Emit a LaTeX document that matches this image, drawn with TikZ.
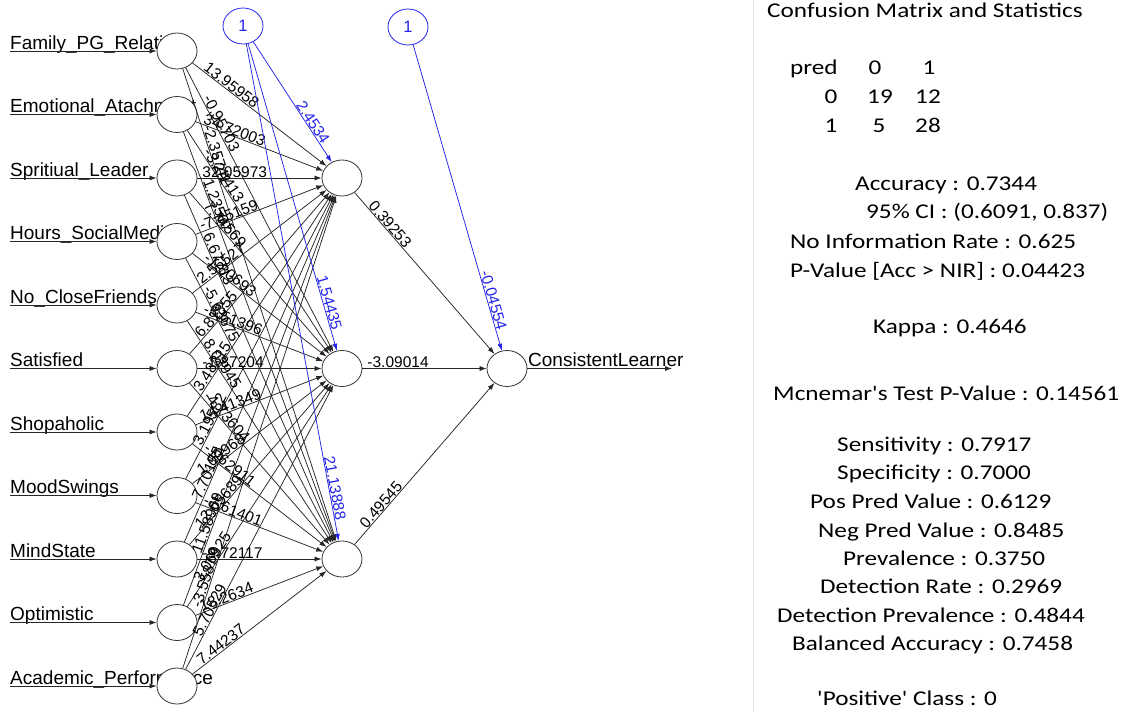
\documentclass[tikz,border=0pt]{standalone}
\usepackage{graphicx}
\usepackage{fontspec}
\setmainfont{Liberation Sans}
\newfontfamily\calibri{Carlito}
\usetikzlibrary{arrows.meta,shapes.geometric}
\definecolor{rblue}{RGB}{35,35,235}
\begin{document}
\begin{tikzpicture}[x=1pt,y=-1pt,
  neuron/.style={draw=black!80, fill=white, ellipse, minimum width=40pt, minimum height=36pt, inner sep=0pt, line width=0.8pt},
  bneuron/.style={neuron, draw=rblue, text=rblue, font=\fontsize{16.5}{17}\selectfont},
  syn/.style={draw=black!85, line width=0.75pt, -{Latex[length=7pt,width=5pt]}},
  bsyn/.style={syn, draw=rblue},
  inlab/.style={anchor=base west, inner sep=0pt, font=\fontsize{19}{20}\selectfont},
  wlab/.style={sloped, anchor=south west, inner sep=0.5pt, font=\fontsize{15.5}{16}\selectfont},
  blab/.style={sloped, anchor=south east, inner sep=0.5pt, text=rblue, font=\fontsize{15.5}{16}\selectfont},
  stat/.style={anchor=base west, inner sep=0pt, font=\calibri\fontsize{21}{22}\selectfont},
  statc/.style={anchor=base, inner sep=0pt, font=\calibri\fontsize{21}{22}\selectfont}
]
\useasboundingbox (0,0) rectangle (1129,712);
\fill[white] (0,0) rectangle (1129,712);

% input layer
\foreach \lab [count=\i] in {Family\_PG\_Relation,Emotional\_Atachment,Spritiual\_Leader,Hours\_SocialMedia,No\_CloseFriends,Satisfied,Shopaholic,MoodSwings,MindState,Optimistic,Academic\_Performance}{
  \pgfmathsetmacro\yy{51+63.5*(\i-1)}
  \node[inlab] (t\i) at (10,\yy-2) {\lab};
  \coordinate (s\i) at (10,\yy);
  \node[neuron] (i\i) at (177,\yy) {};
  \draw[syn] (s\i) -- (i\i);
}

% hidden, output, bias
\node[neuron] (h1) at (342,178) {};
\node[neuron] (h2) at (342,368.5) {};
\node[neuron] (h3) at (342,559) {};
\node[neuron] (o) at (507,368.5) {};
\node[bneuron] (b1) at (243,26) {1};
\node[bneuron] (b2) at (408,27) {1};
\coordinate (out) at (672,368.5);

% input -> hidden synapses
\foreach \i in {1,...,11}{
  \draw[syn] (i\i) -- (h1);
  \draw[syn] (i\i) -- (h2);
  \draw[syn] (i\i) -- (h3);
}
\foreach \i/\a/\b/\c in {
  1/13.95958/-0.95703/-2.35741,
  2/34.72003/-3.24413/1.23507,
  3/32.05973/7.74569/6.67713,
  4/-7.45159/-1.80693/-5.63675,
  5/2.56527/-5.51396/8.02945,
  6/6.81855/-1.87204/-4.73604,
  7/3.48315/14.41349/-1.62911,
  8/3.19582/1.09968/-7.61401,
  9/7.70155/12.05689/-9.72117,
  10/11.58969/3.06925/18.2634,
  11/-3.55879/5.70529/7.44237}{
  \path (i\i.center) -- (h1.center) node[wlab, pos=0.15] {\a};
  \path (i\i.center) -- (h2.center) node[wlab, pos=0.15] {\b};
  \path (i\i.center) -- (h3.center) node[wlab, pos=0.15] {\c};
}

% hidden -> output
\draw[syn] (h1) -- (o);
\draw[syn] (h2) -- (o);
\draw[syn] (h3) -- (o);
\path (h1.center) -- (o.center) node[wlab, pos=0.15] {0.39253};
\path (h2.center) -- (o.center) node[wlab, pos=0.15] {-3.09014};
\path (h3.center) -- (o.center) node[wlab, pos=0.15] {0.49545};

% bias synapses
\draw[bsyn] (b1) -- (h1);
\draw[bsyn] (b1) -- (h2);
\draw[bsyn] (b1) -- (h3);
\draw[bsyn] (b2) -- (o);
\path (b1.center) -- (h1.center) node[blab, pos=0.79] {2.4534};
\path (b1.center) -- (h2.center) node[blab, pos=0.894] {1.54435};
\path (b1.center) -- (h3.center) node[blab, pos=0.93] {21.13888};
\path (b2.center) -- (o.center) node[blab, pos=0.893] {-0.04554};

% output
\draw[syn] (o) -- (out);
\node[inlab] (olab) at (528,366) {ConsistentLearner};

% right panel
\draw[black!12, line width=0.8pt] (753,0) -- (753,712);
\node[stat] (cm) at (767,17) {\scalebox{1.2}[1]{Confusion Matrix and Statistics}};
\node[stat] (pr) at (790,74) {\scalebox{1.2}[1]{pred}};
\node[statc] (c0) at (875,74) {\scalebox{1.2}[1]{0}};
\node[statc] (c1) at (929,74) {\scalebox{1.2}[1]{1}};
\node[statc] (r0) at (831,103) {\scalebox{1.2}[1]{0}};
\node[statc] (r00) at (880,103) {\scalebox{1.2}[1]{19}};
\node[statc] (r01) at (928,103) {\scalebox{1.2}[1]{12}};
\node[statc] (r1) at (831,132) {\scalebox{1.2}[1]{1}};
\node[statc] (r10) at (879,132) {\scalebox{1.2}[1]{5}};
\node[statc] (r11) at (928,132) {\scalebox{1.2}[1]{28}};
\node[stat] (acc) at (855,190) {\scalebox{1.2}[1]{Accuracy : 0.7344}};
\node[stat] (ci) at (866,218) {\scalebox{1.2}[1]{95\% CI : (0.6091, 0.837)}};
\node[stat] (nir) at (790,248) {\scalebox{1.2}[1]{No Information Rate : 0.625}};
\node[stat] (pv) at (790,277) {\scalebox{1.2}[1]{P-Value [Acc > NIR] : 0.04423}};
\node[stat] (kap) at (873,333) {\scalebox{1.2}[1]{Kappa : 0.4646}};
\node[stat] (mc) at (773,400) {\scalebox{1.2}[1]{Mcnemar's Test P-Value : 0.14561}};
\node[stat] (sen) at (837,451) {\scalebox{1.2}[1]{Sensitivity : 0.7917}};
\node[stat] (spe) at (837,479) {\scalebox{1.2}[1]{Specificity : 0.7000}};
\node[stat] (ppv) at (810,508) {\scalebox{1.2}[1]{Pos Pred Value : 0.6129}};
\node[stat] (npv) at (818,537) {\scalebox{1.2}[1]{Neg Pred Value : 0.8485}};
\node[stat] (prev) at (843,565) {\scalebox{1.2}[1]{Prevalence : 0.3750}};
\node[stat] (dr) at (820,593) {\scalebox{1.2}[1]{Detection Rate : 0.2969}};
\node[stat] (dp) at (777,622) {\scalebox{1.2}[1]{Detection Prevalence : 0.4844}};
\node[stat] (ba) at (792,650) {\scalebox{1.2}[1]{Balanced Accuracy : 0.7458}};
\node[stat] (pos) at (817,705) {\scalebox{1.2}[1]{'Positive' Class : 0}};
\end{tikzpicture}
\end{document}
